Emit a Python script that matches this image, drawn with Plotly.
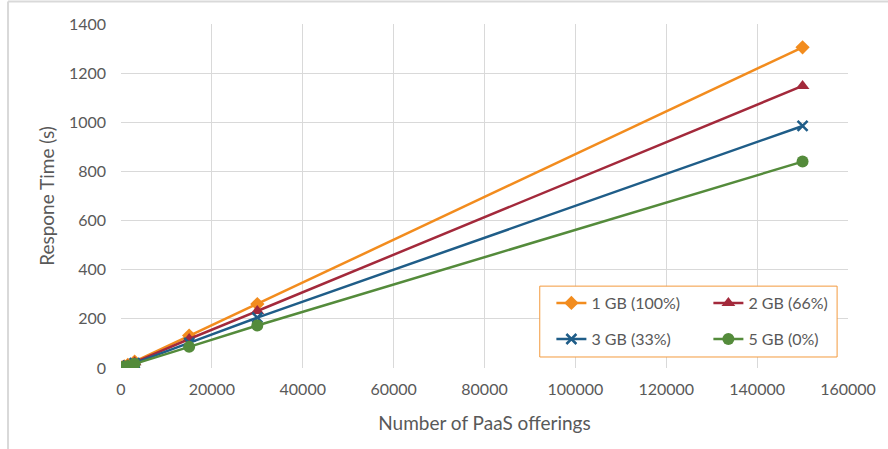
import plotly.graph_objects as go

# Number of PaaS offerings tested
offerings = [150, 300, 750, 1500, 3000, 15000, 30000, 150000]

# Response time (s) per memory configuration
series_names = ["1 GB (100%)", "2 GB (66%)", "3 GB (33%)", "5 GB (0%)"]
resp_1gb = [1.3, 2.6, 6.5, 13, 26, 132, 260, 1305]
resp_2gb = [1.2, 2.3, 5.8, 11.5, 23, 118, 232, 1148]
resp_3gb = [1.0, 2.0, 4.9, 9.8, 20, 102, 205, 985]
resp_5gb = [0.8, 1.7, 4.2, 8.4, 17, 86, 173, 840]

colors = ["#F28C1E", "#A3293B", "#1F5D88", "#548B3B"]
symbols = ["diamond", "triangle-up", "x-thin", "circle"]
marker_sizes = [11, 12, 10, 12]
legends = ["legend", "legend", "legend2", "legend2"]

TEXT = "#595959"
GRID = "#D9D9D9"
FONT = "Lato"

fig = go.Figure()
for name, ys, c, s, ms, lg in zip(series_names, [resp_1gb, resp_2gb, resp_3gb, resp_5gb],
                                  colors, symbols, marker_sizes, legends):
    marker = dict(symbol=s, size=ms, color=c)
    if s == "x-thin":
        marker["line"] = dict(color=c, width=2.5)
    fig.add_trace(go.Scatter(
        x=offerings, y=ys, name=name, mode="lines+markers",
        line=dict(color=c, width=2.5), marker=marker, legend=lg,
    ))

# chart frame and legend box
fig.add_shape(type="line", xref="paper", yref="paper",
              x0=-0.1554, x1=1.1, y0=1.0654, y1=1.0654,
              line=dict(color=GRID, width=2))
fig.add_shape(type="line", xref="paper", yref="paper",
              x0=-0.1554, x1=-0.1554, y0=1.0654, y1=-0.25,
              line=dict(color=GRID, width=2))
fig.add_shape(type="rect", xref="paper", yref="paper",
              x0=0.576, x1=0.985, y0=0.032, y1=0.238,
              line=dict(color="#F39A3E", width=1), fillcolor="white", layer="above")

legend_common = dict(orientation="h", xanchor="left", yanchor="middle",
                     bgcolor="rgba(0,0,0,0)", borderwidth=0,
                     entrywidth=112, entrywidthmode="pixels",
                     font=dict(family=FONT, size=16, color=TEXT))
fig.update_layout(
    width=888, height=449,
    margin=dict(l=121, r=40, t=24, b=81),
    paper_bgcolor="white", plot_bgcolor="white",
    font=dict(family=FONT, size=16, color=TEXT),
    showlegend=True,
    legend=dict(x=0.592, y=0.189, **legend_common),
    legend2=dict(x=0.592, y=0.084, **legend_common),
    xaxis=dict(range=[0, 160000], dtick=20000, tickformat="d",
               showgrid=True, gridcolor=GRID, gridwidth=1,
               zeroline=False, showline=False, ticks="",
               ticklabelstandoff=10,
               title=dict(text="Number of PaaS offerings", standoff=19,
                          font=dict(family=FONT, size=19, color=TEXT)),
               tickfont=dict(family=FONT, size=16, color=TEXT)),
    yaxis=dict(range=[0, 1400], dtick=200,
               showgrid=True, gridcolor=GRID, gridwidth=1,
               zeroline=False, showline=False, ticks="",
               ticklabelstandoff=14,
               title=dict(text="Respone Time (s)", standoff=9,
                          font=dict(family=FONT, size=19, color=TEXT)),
               tickfont=dict(family=FONT, size=16, color=TEXT)),
)

fig.write_html("out.html")
